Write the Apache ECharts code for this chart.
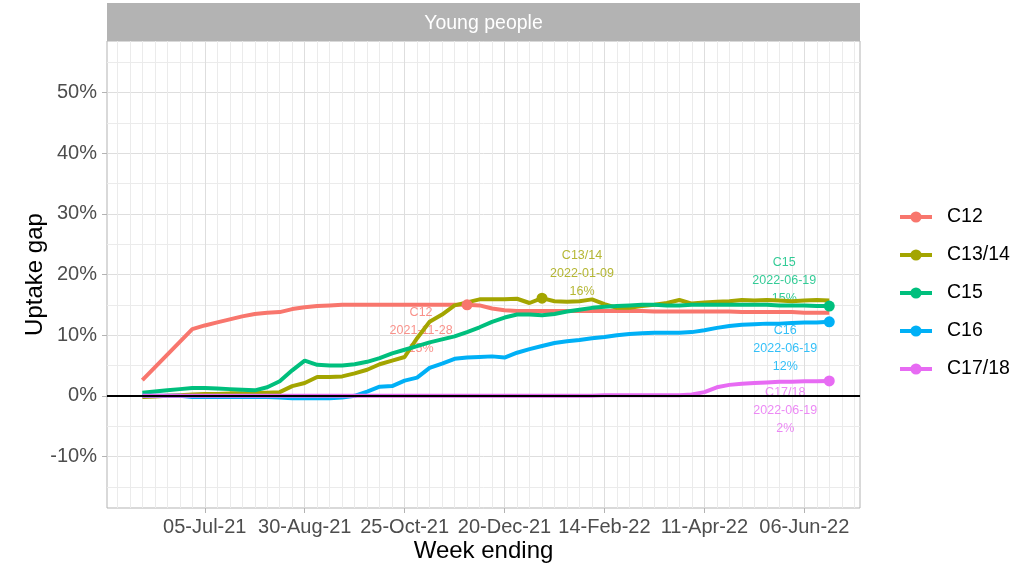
<!DOCTYPE html>
<html>
<head>
<meta charset="UTF-8"/>
<title>Uptake gap - Young people</title>
<script src="https://cdn.jsdelivr.net/npm/echarts@6/dist/echarts.min.js"></script>
<style>
html, body { margin: 0; padding: 0; background: #fff; }
#chart { width: 1025px; height: 566px; }
</style>
</head>
<body>
<div id="chart"></div>
<script>
// one value per week, first week ending 2021-05-30
var firstWeek = '2021-05-30';
var seriesNames = ['C12', 'C13/14', 'C15', 'C16', 'C17/18'];

var c12 = [2.6, 4.7, 6.8, 8.9, 11.0, 11.6, 12.1, 12.6,
  13.1, 13.5, 13.7, 13.8, 14.3, 14.6, 14.8, 14.9,
  15.0, 15.0, 15.0, 15.0, 15.0, 15.0, 15.0, 15.0,
  15.0, 15.0, 15.0, 14.9, 14.4, 14.1, 14.0, 14.0,
  14.0, 14.0, 14.0, 14.0, 14.0, 14.0, 14.0, 14.0,
  14.0, 13.9, 13.9, 13.9, 13.9, 13.9, 13.9, 13.9,
  13.8, 13.8, 13.8, 13.8, 13.8, 13.7, 13.7, 13.7];
var c1314 = [-0.2, -0.1, 0.0, 0.1, 0.2, 0.3, 0.3, 0.4,
  0.4, 0.5, 0.5, 0.6, 1.6, 2.1, 3.1, 3.1,
  3.2, 3.7, 4.3, 5.2, 5.8, 6.4, 9.5, 12.2,
  13.4, 14.9, 15.4, 15.9, 15.9, 15.9, 16.0, 15.3,
  16.1, 15.6, 15.5, 15.6, 15.9, 15.1, 14.5, 14.5,
  14.8, 15.0, 15.3, 15.8, 15.2, 15.4, 15.5, 15.6,
  15.8, 15.7, 15.8, 15.7, 15.6, 15.7, 15.8, 15.7];
var c15 = [0.5, 0.7, 0.9, 1.1, 1.3, 1.3, 1.2, 1.1,
  1.0, 0.9, 1.4, 2.4, 4.2, 5.8, 5.1, 5.0,
  5.0, 5.2, 5.6, 6.2, 7.0, 7.6, 8.2, 8.8,
  9.3, 9.8, 10.5, 11.3, 12.2, 12.9, 13.4, 13.4,
  13.3, 13.5, 13.9, 14.2, 14.5, 14.7, 14.8, 14.9,
  15.0, 15.0, 14.9, 14.9, 15.0, 15.0, 15.0, 15.0,
  15.0, 15.0, 15.0, 14.9, 14.9, 14.9, 14.8, 14.8];
var c16 = [0.0, 0.0, 0.0, 0.0, -0.2, -0.2, -0.2, -0.2,
  -0.2, -0.2, -0.2, -0.3, -0.4, -0.4, -0.4, -0.4,
  -0.3, 0.0, 0.7, 1.5, 1.6, 2.5, 3.0, 4.6,
  5.3, 6.1, 6.3, 6.4, 6.5, 6.3, 7.1, 7.7,
  8.2, 8.7, 9.0, 9.2, 9.5, 9.7, 10.0, 10.2,
  10.3, 10.4, 10.4, 10.4, 10.5, 10.8, 11.2, 11.5,
  11.7, 11.8, 11.9, 11.9, 12.0, 12.1, 12.1, 12.2];
var c1718 = [0.0, 0.0, 0.0, 0.0, 0.0, 0.0, 0.0, 0.0,
  0.0, 0.0, 0.0, 0.0, 0.0, 0.0, 0.0, 0.0,
  0.0, 0.0, 0.0, 0.0, 0.0, 0.0, 0.0, 0.0,
  0.0, 0.0, 0.0, 0.0, 0.0, 0.0, 0.0, 0.0,
  0.0, 0.0, 0.0, 0.0, 0.0, 0.1, 0.1, 0.1,
  0.1, 0.1, 0.1, 0.1, 0.2, 0.6, 1.4, 1.8,
  2.0, 2.1, 2.2, 2.3, 2.3, 2.4, 2.4, 2.45];

// week index of the labelled point of each series
var highlightWeek = [26, 32, 55, 55, 55];

var tickWeeks = [5, 13, 21, 29, 37, 45, 53];
var tickLabels = ['05-Jul-21', '30-Aug-21', '25-Oct-21', '20-Dec-21', '14-Feb-22', '11-Apr-22', '06-Jun-22'];
var yTicks = [-10, 0, 10, 20, 30, 40, 50];
var yMinor = [-15, -5, 5, 15, 25, 35, 45, 55];

var colors = ['#F8766D', '#A3A500', '#00BF7D', '#00B0F6', '#E76BF3'];
var labelOffsets = [[-46, 26], [40, -25], [-45, -25], [-44, 27], [-44, 30]];
var FONT = '"Liberation Sans", Arial, sans-serif';

var allData = [c12, c1314, c15, c16, c1718];

// week ending dates as text
var weekDates = [];
var d0 = new Date(firstWeek + 'T00:00:00Z');
for (var i = 0; i < c12.length; i++) {
  var d = new Date(d0.getTime() + i * 7 * 86400000);
  weekDates.push(d.toISOString().slice(0, 10));
}
// weekly minor grid positions
var minorWeeks = [];
for (var w = -2; w <= 57; w++) {
  if (tickWeeks.indexOf(w) < 0) minorWeeks.push(w);
}

var series = [];
seriesNames.forEach(function (name, k) {
  var vals = allData[k];
  var h = highlightWeek[k];
  var s = {
    name: name,
    type: 'line',
    data: vals.map(function (v, i) { return [i, v]; }),
    symbol: 'circle',
    showSymbol: false,
    symbolSize: 11,
    lineStyle: { color: colors[k], width: 4 },
    itemStyle: { color: colors[k] },
    emphasis: { disabled: true },
    z: 3,
    markPoint: {
      symbol: 'circle',
      symbolSize: 11,
      silent: true,
      itemStyle: { color: colors[k] },
      label: { show: false },
      data: [{ coord: [h, vals[h]] }]
    }
  };
  if (k === seriesNames.length - 1) {
    // zero reference line
    s.markLine = {
      silent: true,
      symbol: ['none', 'none'],
      label: { show: false },
      lineStyle: { color: '#000', width: 2, type: 'solid' },
      data: [{ yAxis: 0 }]
    };
  }
  series.push(s);
  series.push({
    name: name + ' label',
    type: 'scatter',
    data: [[h, vals[h]]],
    symbolSize: 1,
    itemStyle: { color: 'transparent' },
    silent: true,
    z: 2,
    label: {
      show: true,
      position: 'inside',
      offset: labelOffsets[k],
      formatter: name + '\n' + weekDates[h] + '\n' + Math.round(vals[h]) + '%',
      color: colors[k],
      fontSize: 12.5,
      lineHeight: 18,
      fontFamily: FONT
    }
  });
});

var chart = echarts.init(document.getElementById('chart'));
chart.setOption({
  animation: false,
  textStyle: { fontFamily: FONT },
  grid: {
    left: 107, top: 41, width: 753, height: 467,
    outerBoundsMode: 'none', containLabel: false,
    show: true, borderColor: '#B3B3B3', borderWidth: 1, backgroundColor: 'transparent'
  },
  graphic: [
    { type: 'rect', left: 107, top: 3, shape: { width: 753, height: 38 }, style: { fill: '#B3B3B3' } },
    { type: 'text', x: 483.5, y: 24, style: { text: 'Young people', fill: '#fff', font: '19.5px ' + FONT, align: 'center', verticalAlign: 'middle' } }
  ],
  legend: {
    data: seriesNames,
    orient: 'vertical',
    left: 893, top: 202,
    itemWidth: 32, itemHeight: 14, itemGap: 18,
    lineStyle: { width: 4 },
    textStyle: { fontSize: 19.5, color: '#000', lineHeight: 20, padding: [0, 0, 0, 10] }
  },
  xAxis: [{
    type: 'value', min: -2.83, max: 57.46,
    axisLine: { show: false, onZero: false },
    axisTick: { show: true, length: 5, lineStyle: { color: '#B3B3B3' }, customValues: tickWeeks },
    axisLabel: {
      customValues: tickWeeks, color: '#4D4D4D', fontSize: 20, margin: 9,
      formatter: function (v) { return tickLabels[tickWeeks.indexOf(Math.round(v))]; }
    },
    splitLine: { show: true, lineStyle: { color: '#DEDEDE', width: 1 } },
    name: 'Week ending', nameLocation: 'middle', nameGap: 31, nameMoveOverlap: false,
    nameTextStyle: { color: '#000', fontSize: 24 }
  }, {
    type: 'value', min: -2.83, max: 57.46, position: 'bottom',
    axisLine: { show: false, onZero: false },
    axisTick: { show: false, customValues: minorWeeks },
    axisLabel: { show: false },
    splitLine: { show: true, lineStyle: { color: '#EBEBEB', width: 1 } }
  }],
  yAxis: [{
    type: 'value', min: -18.5, max: 58.5,
    axisLine: { show: false, onZero: false },
    axisTick: { show: true, length: 5, lineStyle: { color: '#B3B3B3' }, customValues: yTicks },
    axisLabel: {
      customValues: yTicks, color: '#4D4D4D', fontSize: 20, margin: 10,
      formatter: function (v) { return Math.round(v) + '%'; }
    },
    splitLine: { show: true, lineStyle: { color: '#DEDEDE', width: 1 } },
    name: 'Uptake gap', nameLocation: 'middle', nameGap: 60, nameMoveOverlap: false,
    nameTextStyle: { color: '#000', fontSize: 24 }
  }, {
    type: 'value', min: -18.5, max: 58.5, position: 'left',
    axisLine: { show: false, onZero: false },
    axisTick: { show: false, customValues: yMinor },
    axisLabel: { show: false },
    splitLine: { show: true, lineStyle: { color: '#EBEBEB', width: 1 } }
  }],
  series: series
});
</script>
</body>
</html>
